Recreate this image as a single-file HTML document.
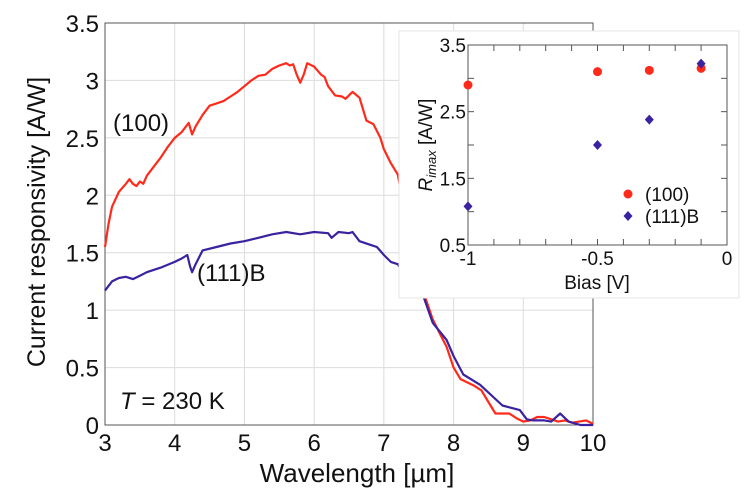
<!DOCTYPE html>
<html><head><meta charset="utf-8"><style>
body{margin:0;background:#fff;}
svg{display:block;font-family:"Liberation Sans",Arial,sans-serif;}
</style></head><body>
<svg id="c" width="756" height="496" viewBox="0 0 756 496"></svg>
<script>
const mainXTicks=[3,4,5,6,7,8,9,10];
const mainYTicks=[0,0.5,1,1.5,2,2.5,3,3.5];
const wl100=[3.0,3.05,3.1,3.2,3.3,3.35,3.4,3.45,3.5,3.55,3.6,3.7,3.8,3.9,4.0,4.1,4.2,4.25,4.3,4.4,4.5,4.6,4.7,4.8,4.9,5.0,5.1,5.2,5.3,5.4,5.5,5.6,5.65,5.7,5.75,5.8,5.85,5.9,6.0,6.1,6.15,6.2,6.3,6.4,6.45,6.55,6.65,6.75,6.85,6.95,7.0,7.1,7.2,7.3,7.4,7.5,7.6,7.7,7.8,7.9,8.0,8.1,8.2,8.3,8.4,8.5,8.6,8.7,8.8,8.9,9.0,9.1,9.2,9.3,9.4,9.5,9.6,9.7,9.8,9.9,10.0];
const r100=[1.55,1.75,1.9,2.03,2.1,2.14,2.1,2.08,2.12,2.1,2.17,2.25,2.33,2.42,2.5,2.55,2.63,2.53,2.6,2.7,2.78,2.8,2.82,2.86,2.9,2.95,3.0,3.04,3.05,3.1,3.13,3.15,3.13,3.14,3.05,2.98,3.05,3.15,3.12,3.05,3.03,2.95,2.87,2.86,2.84,2.9,2.85,2.65,2.62,2.5,2.4,2.28,2.18,1.85,1.6,1.3,1.1,0.92,0.8,0.68,0.5,0.4,0.37,0.34,0.3,0.2,0.1,0.1,0.1,0.06,0.03,0.04,0.07,0.07,0.05,0.03,0.04,0.02,0.03,0.04,0.01];
const wl111=[3.0,3.1,3.2,3.3,3.4,3.5,3.6,3.8,4.0,4.1,4.18,4.22,4.25,4.3,4.4,4.6,4.8,5.0,5.2,5.4,5.6,5.8,6.0,6.2,6.25,6.35,6.5,6.55,6.65,6.8,6.9,7.0,7.1,7.2,7.3,7.45,7.55,7.7,7.9,8.0,8.14,8.38,8.7,8.95,9.05,9.14,9.3,9.4,9.53,9.65,9.82,10.0];
const r111=[1.17,1.25,1.28,1.29,1.27,1.3,1.33,1.37,1.42,1.45,1.48,1.38,1.33,1.4,1.52,1.55,1.58,1.6,1.63,1.66,1.68,1.66,1.68,1.67,1.63,1.68,1.67,1.68,1.6,1.57,1.55,1.48,1.42,1.4,1.3,1.14,1.15,0.89,0.74,0.6,0.44,0.35,0.17,0.13,0.05,0.04,0.04,0.03,0.1,0.03,0.0,0.0];
const insetXTicks=[-1,-0.5,0];
const insetYTicks=[0.5,1.5,2.5,3.5];
const bias=[-1,-0.5,-0.3,-0.1];
const rmax100=[2.9,3.1,3.12,3.15];
const rmax111=[1.08,2.0,2.38,3.22];

const NS="http://www.w3.org/2000/svg";
const svg=document.getElementById('c');
function mk(t,a,p){const e=document.createElementNS(NS,t);for(const k in a)e.setAttribute(k,a[k]);(p||svg).appendChild(e);return e;}
const X=v=>105+(v-3)*(488/7);
const Y=v=>425-v*(402/3.5);
mainXTicks.forEach(t=>{if(t>3&&t<10){const l=mk('line',{x1:X(t),x2:X(t),y1:23,y2:425,stroke:'#dcdcdc','stroke-width':1});

}});
mainYTicks.forEach(t=>{if(t>0&&t<3.5){const l=mk('line',{x1:105,x2:593,y1:Y(t),y2:Y(t),stroke:'#dcdcdc','stroke-width':1});

}});
const fr=mk('rect',{x:105,y:23,width:488,height:402,fill:'none',stroke:'#555','stroke-width':1});


mainXTicks.forEach(t=>{const e=mk('text',{x:X(t),y:451,'text-anchor':'middle','font-size':24,fill:'#111'});e.textContent=t;

});
mainYTicks.forEach(t=>{const e=mk('text',{x:99,y:Y(t)+9,'text-anchor':'end','font-size':24,fill:'#111'});e.textContent=t;

});
let e=mk('text',{x:357,y:482,'text-anchor':'middle','font-size':26,fill:'#111'});e.textContent='Wavelength [µm]';


e=mk('text',{x:0,y:0,'text-anchor':'middle','font-size':25,fill:'#111',transform:'translate(45,222) rotate(-90)'});e.textContent='Current responsivity [A/W]';


function line(xs,ys,col,name){const d=xs.map((x,i)=>(i?'L':'M')+X(x).toFixed(1)+','+Y(ys[i]).toFixed(1)).join('');
const p=mk('path',{d:d,fill:'none',stroke:col,'stroke-width':2.2,'stroke-linejoin':'round'});

}
line(wl100,r100,'#ff2a1a','series-100-line');
line(wl111,r111,'#3a22a0','series-111b-line');
e=mk('text',{x:113,y:131,'font-size':24,fill:'#111'});e.textContent='(100)';


e=mk('text',{x:197,y:281,'font-size':24,fill:'#111'});e.textContent='(111)B';


e=mk('text',{x:120,y:409,'font-size':24,fill:'#111'});e.innerHTML='<tspan font-style="italic">T</tspan> = 230 K';


const ib=mk('rect',{x:399,y:31,width:340,height:267,fill:'#fff',stroke:'#e4e4e4','stroke-width':1});


const IX=v=>468+(v+1)*259;
const IY=v=>245-(v-0.5)*(200/3);
const ifr=mk('rect',{x:468,y:45,width:259,height:200,fill:'none',stroke:'#555','stroke-width':1});


for(let v=-0.9;v<0;v+=0.1){const xx=IX(v);mk('line',{x1:xx,x2:xx,y1:245,y2:239,stroke:'#555'});mk('line',{x1:xx,x2:xx,y1:45,y2:51,stroke:'#555'});}
for(let v=1;v<3.5;v+=0.5){const yy=IY(v);mk('line',{x1:727,x2:721,y1:yy,y2:yy,stroke:'#555'});mk('line',{x1:468,x2:474,y1:yy,y2:yy,stroke:'#555'});}
insetXTicks.forEach(t=>{const e=mk('text',{x:IX(t),y:265,'text-anchor':'middle','font-size':19,fill:'#111'});e.textContent=t;

});
insetYTicks.forEach(t=>{const e=mk('text',{x:466,y:IY(t)+7,'text-anchor':'end','font-size':19,fill:'#111'});e.textContent=t;

});
e=mk('text',{x:597,y:289,'text-anchor':'middle','font-size':19,fill:'#111'});e.textContent='Bias [V]';


e=mk('text',{x:0,y:0,'text-anchor':'middle','font-size':19,fill:'#111',transform:'translate(432,145) rotate(-90)'});
e.innerHTML='<tspan font-style="italic">R</tspan><tspan font-style="italic" font-size="13" dy="4">imax</tspan><tspan dy="-4"> [A/W]</tspan>';


bias.forEach((b,i)=>{const c=mk('circle',{cx:IX(b),cy:IY(rmax100[i]),r:4.5,fill:'#ff2a1a'});


const x=IX(b),y=IY(rmax111[i]);
const d=mk('path',{d:`M${x},${y-5}L${x+4.5},${y}L${x},${y+5}L${x-4.5},${y}Z`,fill:'#3a22a0'});

});
const lc=mk('circle',{cx:628,cy:194,r:4.5,fill:'#ff2a1a'});


const ld=mk('path',{d:'M628,211L632.5,216L628,221L623.5,216Z',fill:'#3a22a0'});


e=mk('text',{x:645,y:201,'font-size':19,fill:'#111'});e.textContent='(100)';


e=mk('text',{x:645,y:223,'font-size':19,fill:'#111'});e.textContent='(111)B';


</script>
</body></html>
